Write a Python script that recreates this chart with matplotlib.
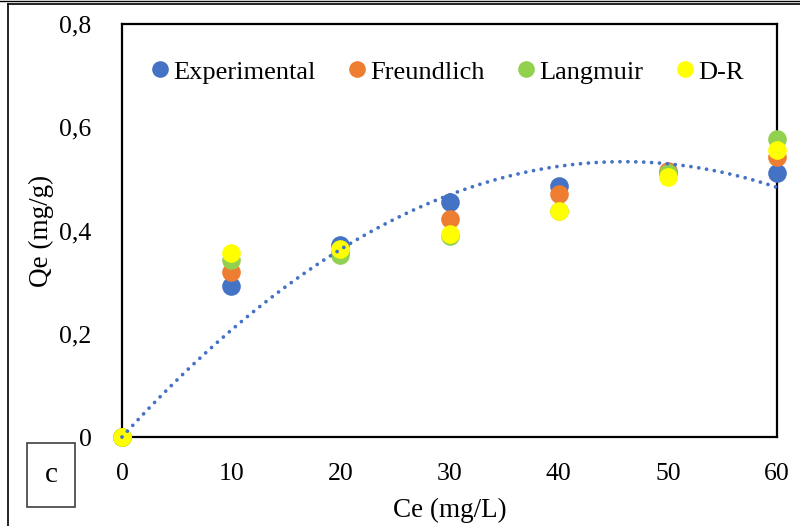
import numpy as np
import matplotlib.pyplot as plt
from matplotlib.patches import Rectangle
from matplotlib.lines import Line2D

plt.rcParams['font.family'] = ['Liberation Serif', 'DejaVu Serif']

# Equilibrium concentration (mg/L) and uptake (mg/g)
ce = [0, 10, 20, 30, 40, 50, 60]
qe_exp = [0, 0.293, 0.372, 0.456, 0.487, 0.512, 0.512]
qe_freundlich = [0, 0.320, 0.358, 0.422, 0.471, 0.516, 0.542]
qe_langmuir = [0, 0.343, 0.352, 0.389, 0.437, 0.512, 0.577]
qe_dr = [0, 0.357, 0.364, 0.393, 0.437, 0.504, 0.556]

series = [
    ("Experimental", qe_exp, "#4472C4"),
    ("Freundlich", qe_freundlich, "#ED7D31"),
    ("Langmuir", qe_langmuir, "#92D050"),
    ("D-R", qe_dr, "#FFFF00"),
]

fig = plt.figure(figsize=(8, 5.26), dpi=100)
ax = fig.add_axes([122 / 800, 1 - 437 / 526, 655 / 800, 413 / 526])

for name, vals, col in series:
    ax.scatter(ce, vals, s=180, color=col, label=name, clip_on=False,
               linewidths=0, zorder=3)

# second order trendline through the origin, fitted to experimental data
x = np.array(ce, dtype=float)
y = np.array(qe_exp)
A = np.column_stack([x, x ** 2])
coef = np.linalg.lstsq(A, y, rcond=None)[0]
xf = np.linspace(0, 60, 300)
ax.plot(xf, coef[0] * xf + coef[1] * xf ** 2, color="#4472C4", lw=2.7,
        linestyle=(0, (0.01, 2.1)), dash_capstyle="round", zorder=4,
        clip_on=False)

ax.set_xlim(0, 60)
ax.set_ylim(0, 0.8)
ax.set_xticks(range(0, 61, 10))
ax.set_yticks([0, 0.2, 0.4, 0.6, 0.8])
ax.set_yticklabels(["0", "0,2", "0,4", "0,6", "0,8"])
ax.tick_params(length=0, labelsize=18.5)
ax.tick_params(axis="y", pad=22)
ax.tick_params(axis="x", pad=19)
for sp in ax.spines.values():
    sp.set_linewidth(1.6)
    sp.set_color("black")

ax.set_xlabel("Ce (mg/L)", fontsize=19.5, labelpad=9)
ax.set_ylabel("Qe (mg/g)", fontsize=19.5, labelpad=4)

handles = [Line2D([], [], marker="o", linestyle="none", markersize=12,
                  markerfacecolor=c, markeredgewidth=0) for _, _, c in series]
ax.legend(handles, [s[0] for s in series], ncol=4, frameon=False,
          fontsize=19, loc="center left", bbox_to_anchor=(0.022, 0.884),
          borderpad=0, handletextpad=0.1, columnspacing=1.17,
          handlelength=0.8)

# panel letter
fig.patches.append(Rectangle((27 / 800, 1 - 507 / 526), 48 / 800, 64 / 526,
                             transform=fig.transFigure, fill=False,
                             edgecolor="#404040", lw=1.2))
fig.text(51 / 800, 1 - 475 / 526, "c", fontsize=21, ha="center", va="center")

# outer frame
fig.add_artist(Line2D([8 / 800, 8 / 800], [0, 1 - 4 / 526],
                      transform=fig.transFigure, color="black", lw=1.2))
fig.add_artist(Line2D([8 / 800, 1], [1 - 4 / 526, 1 - 4 / 526],
                      transform=fig.transFigure, color="black", lw=1.2))
fig.add_artist(Line2D([0, 1], [1 - 1 / 526, 1 - 1 / 526],
                      transform=fig.transFigure, color="black", lw=1.0))

fig.savefig("out.png", dpi=100)
